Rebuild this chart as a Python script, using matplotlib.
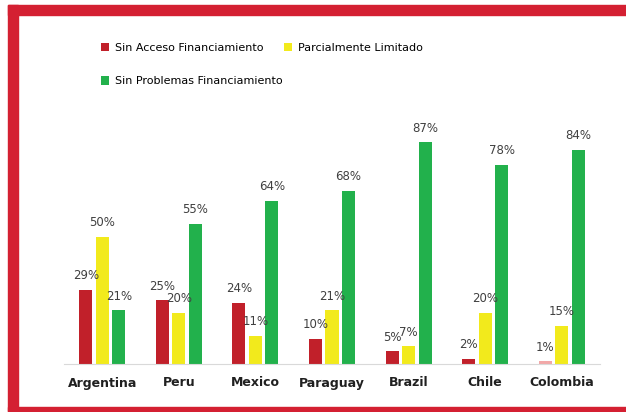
import numpy as np
import matplotlib.pyplot as plt
from matplotlib.patches import Rectangle

# Datos
paises = ['Argentina', 'Peru', 'Mexico', 'Paraguay', 'Brazil', 'Chile', 'Colombia']
sin_acceso = [29, 25, 24, 10, 5, 2, 1]
parcial = [50, 20, 11, 21, 7, 20, 15]
sin_problemas = [21, 55, 64, 68, 87, 78, 84]

rojo = '#C1202A'
amarillo = '#F2EA1C'
verde = '#22B14C'
marco = '#D42032'

fig = plt.figure(figsize=(6.26, 4.12), dpi=100)

# Marco rojo
fig.patches.append(Rectangle((8/626, 1 - 15/412), 1, 10/412, transform=fig.transFigure,
                             color=marco, zorder=0))
fig.patches.append(Rectangle((8/626, 0), 10/626, 1 - 5/412, transform=fig.transFigure,
                             color=marco, zorder=0))
fig.patches.append(Rectangle((8/626, 1/412), 1, 4/412, transform=fig.transFigure,
                             color=marco, zorder=0))

ax = fig.add_axes([64/626, 48/412, 536/626, 255/412])

x = np.arange(len(paises))
w = 0.17
off = 0.215

colores_rojo = [rojo] * len(paises)
colores_rojo[-1] = '#F2A8A8'

b1 = ax.bar(x - off, sin_acceso, w, color=colores_rojo, label='Sin Acceso Financiamiento')
b2 = ax.bar(x, parcial, w, color=amarillo, label='Parcialmente Limitado')
b3 = ax.bar(x + off, sin_problemas, w, color=verde, label='Sin Problemas Financiamiento')

for barras, vals in [(b1, sin_acceso), (b2, parcial), (b3, sin_problemas)]:
    for b, v in zip(barras, vals):
        ax.text(b.get_x() + b.get_width() / 2, v + 3, f'{v}%', ha='center', va='bottom',
                fontsize=8.5, color='#404040')

ax.set_xlim(-0.5, len(paises) - 0.5)
ax.set_ylim(0, 100)
ax.set_xticks(x)
ax.set_xticklabels(paises, fontsize=9, fontweight='bold', color='#202020')
ax.tick_params(axis='x', length=0, pad=9)
ax.set_yticks([])
for s in ['top', 'right', 'left']:
    ax.spines[s].set_visible(False)
ax.spines['bottom'].set_color('#D9D9D9')

fig.legend([b1, b3, b2], ['Sin Acceso Financiamiento', 'Sin Problemas Financiamiento',
                          'Parcialmente Limitado'],
           ncol=2, loc='upper left', bbox_to_anchor=(91/626, 1 - 33/412), frameon=False,
           fontsize=8, handlelength=0.75, handleheight=0.75, handletextpad=0.5,
           columnspacing=0.1, labelspacing=2.1)

plt.savefig('out.png', dpi=100)
